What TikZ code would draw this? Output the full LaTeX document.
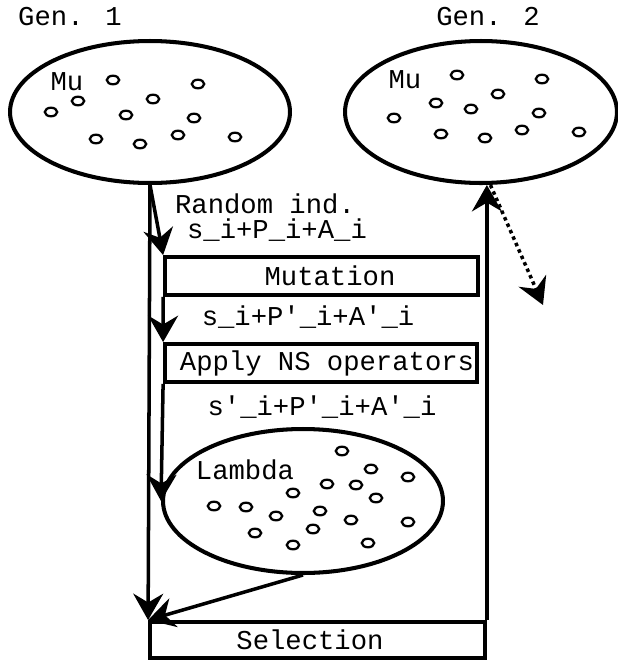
\documentclass[tikz,border=0pt]{standalone}
\usepackage{fontspec}
\newfontfamily\cour{Liberation Mono}
\usetikzlibrary{arrows.meta,shapes.geometric}

\begin{document}
\begin{tikzpicture}[x=0.02cm,y=-0.02cm,
  every node/.style={font=\cour\fontsize{15.5}{18}\selectfont, inner sep=0pt},
  pop/.style={ellipse, draw, line width=2.3pt},
  opbox/.style={rectangle, draw, line width=2.2pt},
  flow/.style={line width=2pt, -{Stealth[length=15pt,width=17pt,inset=5pt]}},
  ind/.style={line width=1.3pt}]
\useasboundingbox (0,0) rectangle (618,660);

\node (gen1) at (70,17) {Gen. 1};
\node (gen2) at (488,17) {Gen. 2};

\node [pop, minimum width=5.6cm, minimum height=2.84cm] (mu1) at (150,112) {};
\node [pop, minimum width=5.44cm, minimum height=2.84cm] (mu2) at (481,112) {};
\node [pop, minimum width=5.6cm, minimum height=2.88cm] (lam) at (303,501) {};

\node (mu1txt) at (67,82) {Mu};
\node (mu2txt) at (405,80) {Mu};
\node (lamtxt) at (245,470) {Lambda};

\foreach \x/\y in {113/80,198/84,78/101,153/99,51/112,126/115,194/118,96/139,140/144,178/135,235/137}
  \draw [ind] (\x,\y) circle [x radius=6.2, y radius=4.3];
\foreach \x/\y in {457/75,542/79,498/94,436/103,471/109,539/113,394/118,441/134,485/138,522/130,579/132}
  \draw [ind] (\x,\y) circle [x radius=6.2, y radius=4.3];
\foreach \x/\y in {342/451,371/469,408/477,327/484,356/485,293/493,376/498,214/506,246/507,276/516,320/511,351/520,408/522,255/533,313/529,293/545,368/543}
  \draw [ind] (\x,\y) circle [x radius=6.2, y radius=4.3];

\node [opbox, minimum width=6.26cm, minimum height=0.76cm,
  label={[xshift=0.17cm]center:Mutation}] (mut) at (321.5,276) {};
\node [opbox, minimum width=6.24cm, minimum height=0.76cm,
  label={[xshift=0.12cm]center:Apply NS operators}] (ns) at (321,363) {};
\node [opbox, minimum width=6.7cm, minimum height=0.72cm,
  label={[xshift=-0.15cm]center:Selection}] (sel) at (317.5,640) {};

\node (rand) at (265,204) {Random ind.};
\node (v1) at (277,230) {s\_i+P\_i+A\_i};
\node (v2) at (308,317) {s\_i+P\textquotesingle\_i+A\textquotesingle\_i};
\node (v3) at (322,407) {s\textquotesingle\_i+P\textquotesingle\_i+A\textquotesingle\_i};

\coordinate (out) at (543,305);

\draw [flow] (mu1.south) -- (sel.north west);
\draw [flow] (mu1.south) -- (mut.north west);
\draw [flow] (mut.south west) -- (ns.north west);
\draw [flow] (ns.south west) -- (lam.west);
\draw [flow] (lam.south) -- (sel.north west);
\draw [flow] (sel.north east) -- (sel.north east |- mu2.south);
\draw [flow, dash pattern=on 2pt off 2pt] ([xshift=2pt]sel.north east |- mu2.south) -- (out);

\end{tikzpicture}
\end{document}
